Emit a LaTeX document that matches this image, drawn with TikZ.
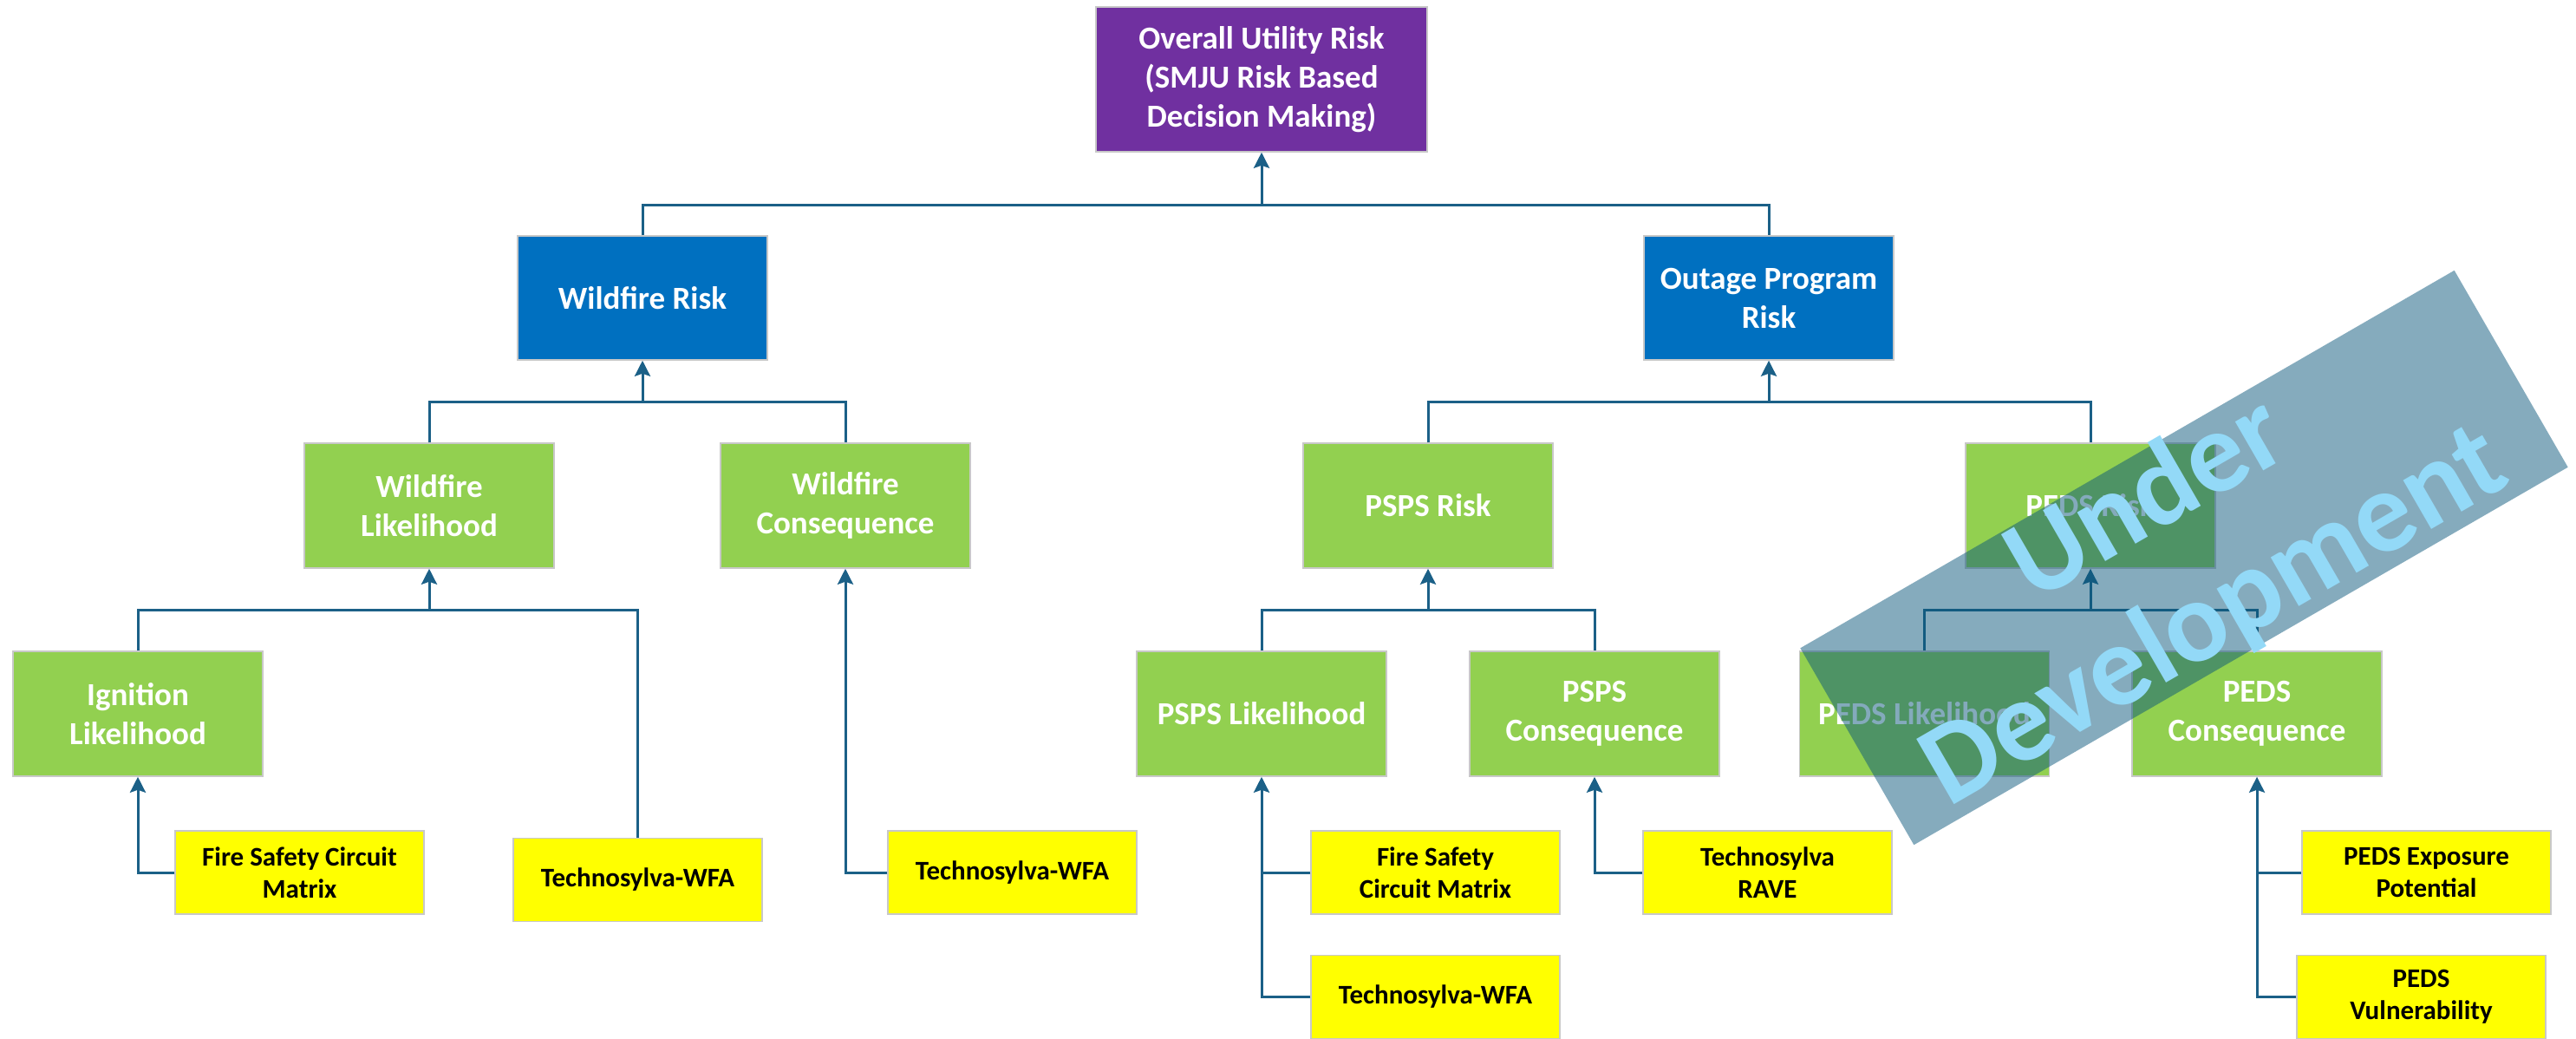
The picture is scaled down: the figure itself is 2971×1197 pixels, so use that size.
\documentclass[tikz,border=0pt]{standalone}
\usepackage{fontspec}
\setmainfont{Carlito}
\usetikzlibrary{arrows.meta}
\definecolor{topviolet}{HTML}{7030A0}
\definecolor{riskblue}{HTML}{0070C0}
\definecolor{leafgreen}{HTML}{92D050}
\definecolor{srcyellow}{HTML}{FFFF00}
\definecolor{linkteal}{RGB}{27,96,135}
\definecolor{edgegray}{RGB}{200,200,200}
\definecolor{bannerblue}{RGB}{11,87,123}
\definecolor{bannertext}{RGB}{147,217,247}
\tikzset{
  box/.style={rectangle, draw=edgegray, line width=1.5pt, inner sep=0pt,
    align=center, minimum width=288pt, minimum height=144pt,
    text=white, font=\bfseries\fontsize{37}{45}\selectfont},
  topbox/.style={box, fill=topviolet, minimum width=382pt, minimum height=167pt},
  bluebox/.style={box, fill=riskblue, minimum height=143pt},
  greenbox/.style={box, fill=leafgreen},
  srcbox/.style={box, fill=srcyellow, text=black, minimum width=287pt,
    minimum height=96pt, font=\bfseries\fontsize{31}{37}\selectfont},
  link/.style={draw=linkteal, line width=3pt},
  uparrow/.style={link, -{Stealth[length=18pt, width=18pt, inset=3pt]}}
}
\begin{document}
\begin{tikzpicture}[x=1pt, y=-1pt]
\useasboundingbox (0,0) rectangle (2971,1197);

% level 0
\node[topbox] (top) at (1455,91.5) {Overall Utility Risk\\(SMJU Risk Based\\Decision Making)};
% level 1
\node[bluebox] (wr)  at (741,343.5)  {Wildfire Risk};
\node[bluebox] (opr) at (2040,343.5) {Outage Program\\Risk};
% level 2
\node[greenbox] (wl)   at (495,583)  {Wildfire\\Likelihood};
\node[greenbox] (wc)   at (975,583)  {Wildfire\\Consequence};
\node[greenbox] (pspr) at (1647,583) {PSPS Risk};
\node[greenbox] (pedr) at (2411,583) {PEDS Risk};
% level 3
\node[greenbox] (ign)  at (159,823)  {Ignition\\Likelihood};
\node[greenbox] (pspl) at (1455,823) {PSPS Likelihood};
\node[greenbox] (pspc) at (1839,823) {PSPS\\Consequence};
\node[greenbox] (pedl) at (2219.5,823) {PEDS Likelihood};
\node[greenbox] (pedc) at (2603,823) {PEDS\\Consequence};
% data sources
\node[srcbox] (fs1)   at (345.5,1006)  {Fire Safety Circuit\\Matrix};
\node[srcbox] (twfa1) at (735.5,1014.5){Technosylva-WFA};
\node[srcbox] (twfa2) at (1167.5,1006) {Technosylva-WFA};
\node[srcbox] (fs2)   at (1655.5,1006) {Fire Safety\\Circuit Matrix};
\node[srcbox] (twfa3) at (1655.5,1149.5) {Technosylva-WFA};
\node[srcbox] (rave)  at (2038.5,1006) {Technosylva\\RAVE};
\node[srcbox] (pexp)  at (2798.5,1006) {PEDS Exposure\\Potential};
\node[srcbox] (pvul)  at (2792.5,1149.5) {PEDS\\Vulnerability};

% junctions of the tree
\coordinate (j0) at (1455,236);
\coordinate (j1) at (741,463);
\coordinate (j2) at (2040,463);
\coordinate (j3) at (495,703);
\coordinate (j4) at (1647,703);
\coordinate (j5) at (2411,703);

% connectors
\draw[link] (wr.north) |- (j0) -| (opr.north);
\draw[uparrow] (j0) -- (top.south);

\draw[link] (wl.north) |- (j1) -| (wc.north);
\draw[uparrow] (j1) -- (wr.south);

\draw[link] (pspr.north) |- (j2) -| (pedr.north);
\draw[uparrow] (j2) -- (opr.south);

\draw[link] (ign.north) |- (j3) -| (twfa1.north);
\draw[uparrow] (j3) -- (wl.south);

\draw[uparrow] (twfa2.west) -| (wc.south);
\draw[uparrow] (fs1.west) -| (ign.south);

\draw[link] (pspl.north) |- (j4) -| (pspc.north);
\draw[uparrow] (j4) -- (pspr.south);

\draw[link] (pedl.north) |- (j5) -| (pedc.north);
\draw[uparrow] (j5) -- (pedr.south);

\draw[uparrow] (twfa3.west) -| (pspl.south);
\draw[link] (fs2.west) -- (fs2.west -| pspl.south);
\draw[uparrow] (rave.west) -| (pspc.south);
\draw[uparrow] (pvul.west) -| (pedc.south);
\draw[link] (pexp.west) -- (pexp.west -| pedc.south);

% translucent banner across the PEDS branch
\node[rectangle, fill=bannerblue, fill opacity=0.5, draw=none, rotate=30,
  minimum width=871pt, minimum height=262pt] (banner) at (2519,643) {};
\node[rotate=30, align=center, text=bannertext, inner sep=0pt,
  font=\bfseries\fontsize{134}{156}\selectfont] (bannerlabel) at (2516,645) {Under\\Development};
\end{tikzpicture}
\end{document}
